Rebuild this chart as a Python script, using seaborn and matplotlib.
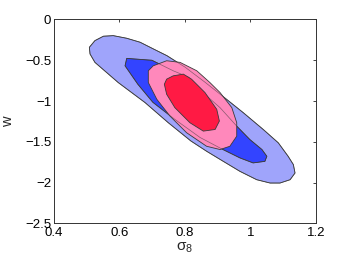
import numpy as np
import matplotlib
matplotlib.use("Agg")
import matplotlib.pyplot as plt
import seaborn as sns

# Contour vertices (sigma_8, w)
outer_blue_s8 = [0.508, 0.525, 0.551, 0.581, 0.622, 0.663, 0.704, 0.745, 0.800, 0.861, 0.927, 0.978,
                 1.039, 1.085, 1.115, 1.131, 1.136, 1.121, 1.090, 1.060, 1.019, 0.968, 0.917, 0.866,
                 0.818, 0.749, 0.678, 0.596, 0.525, 0.510]
outer_blue_w = [-0.341, -0.259, -0.205, -0.198, -0.230, -0.279, -0.362, -0.444, -0.584, -0.769, -0.979, -1.143,
                -1.349, -1.513, -1.678, -1.780, -1.883, -1.965, -2.006, -2.006, -1.965, -1.863, -1.740, -1.616,
                -1.490, -1.266, -1.019, -0.773, -0.526, -0.423]

inner_blue_s8 = [0.622, 0.699, 0.764, 0.812, 0.850, 0.907, 0.959, 0.998, 1.035, 1.050, 1.044, 1.008,
                 0.968, 0.916, 0.846, 0.769, 0.702, 0.656, 0.617]
inner_blue_w = [-0.477, -0.500, -0.629, -0.709, -0.880, -1.081, -1.312, -1.472, -1.595, -1.678, -1.740, -1.759,
                -1.698, -1.595, -1.447, -1.225, -1.016, -0.794, -0.568]

outer_red_s8 = [0.744, 0.785, 0.836, 0.876, 0.907, 0.943, 0.958, 0.958, 0.937, 0.907, 0.866, 0.805,
                0.754, 0.714, 0.688, 0.688, 0.703]
outer_red_w = [-0.506, -0.526, -0.629, -0.773, -0.896, -1.081, -1.266, -1.431, -1.555, -1.595, -1.555, -1.389,
               -1.184, -0.979, -0.773, -0.629, -0.568]

inner_red_s8 = [0.764, 0.795, 0.820, 0.861, 0.897, 0.905, 0.892, 0.856, 0.815, 0.769, 0.744, 0.737, 0.744]
inner_red_w = [-0.691, -0.670, -0.732, -0.896, -1.102, -1.246, -1.349, -1.369, -1.266, -1.081, -0.917, -0.794, -0.732]

x_ticks = [0.4, 0.6, 0.8, 1.0, 1.2]
x_labels = ["0.4", "0.6", "0.8", "1", "1.2"]
y_ticks = [0, -0.5, -1, -1.5, -2, -2.5]
y_labels = ["0", "\u22120.5", "\u22121", "\u22121.5", "\u22122", "\u22122.5"]

sns.set_style("white")
plt.rcParams['font.family'] = ['Liberation Sans', 'DejaVu Sans']
plt.rcParams['mathtext.default'] = 'regular'

fig = plt.figure(figsize=(3.49, 2.62), dpi=100)
ax = fig.add_axes([0.1547, 0.1476, 0.9054 - 0.1547, 0.9256 - 0.1476])

edge = '#3a3a3a'
lw = 0.6
ax.fill(outer_blue_s8, outer_blue_w, facecolor='#9fa4fb', edgecolor=edge, lw=lw, zorder=1)
ax.fill(inner_blue_s8, inner_blue_w, facecolor='#3344ff', edgecolor=edge, lw=lw, zorder=2)
ax.fill(outer_red_s8, outer_red_w, facecolor='#ff88bb', edgecolor=edge, lw=lw, zorder=3)
# blue contour outlines visible through the pink region
ax.fill(outer_blue_s8, outer_blue_w, facecolor='none', edgecolor=edge, lw=0.5, alpha=0.6, zorder=4)
ax.fill(inner_blue_s8, inner_blue_w, facecolor='none', edgecolor=edge, lw=0.5, alpha=0.6, zorder=4)
ax.fill(inner_red_s8, inner_red_w, facecolor='#ff1a44', edgecolor=edge, lw=lw, zorder=5)

ax.set_xlim(0.4, 1.2)
ax.set_ylim(-2.5, 0)
ax.set_xticks(x_ticks)
ax.set_xticklabels(x_labels)
ax.set_yticks(y_ticks)
ax.set_yticklabels(y_labels)
ax.tick_params(direction='in', length=2.5, width=0.6, labelsize=9.5, top=True, right=True,
               colors='#222222', labelcolor='black', pad=2)
ax.tick_params(axis='x', pad=3)
for sp in ax.spines.values():
    sp.set_visible(True)
    sp.set_linewidth(0.7)
    sp.set_color('#333333')

ax.set_xlabel(r'$\sigma_8$', fontsize=11, labelpad=1)
ax.set_ylabel('w', fontsize=10.5, labelpad=7)

fig.savefig('out.png', dpi=100)
